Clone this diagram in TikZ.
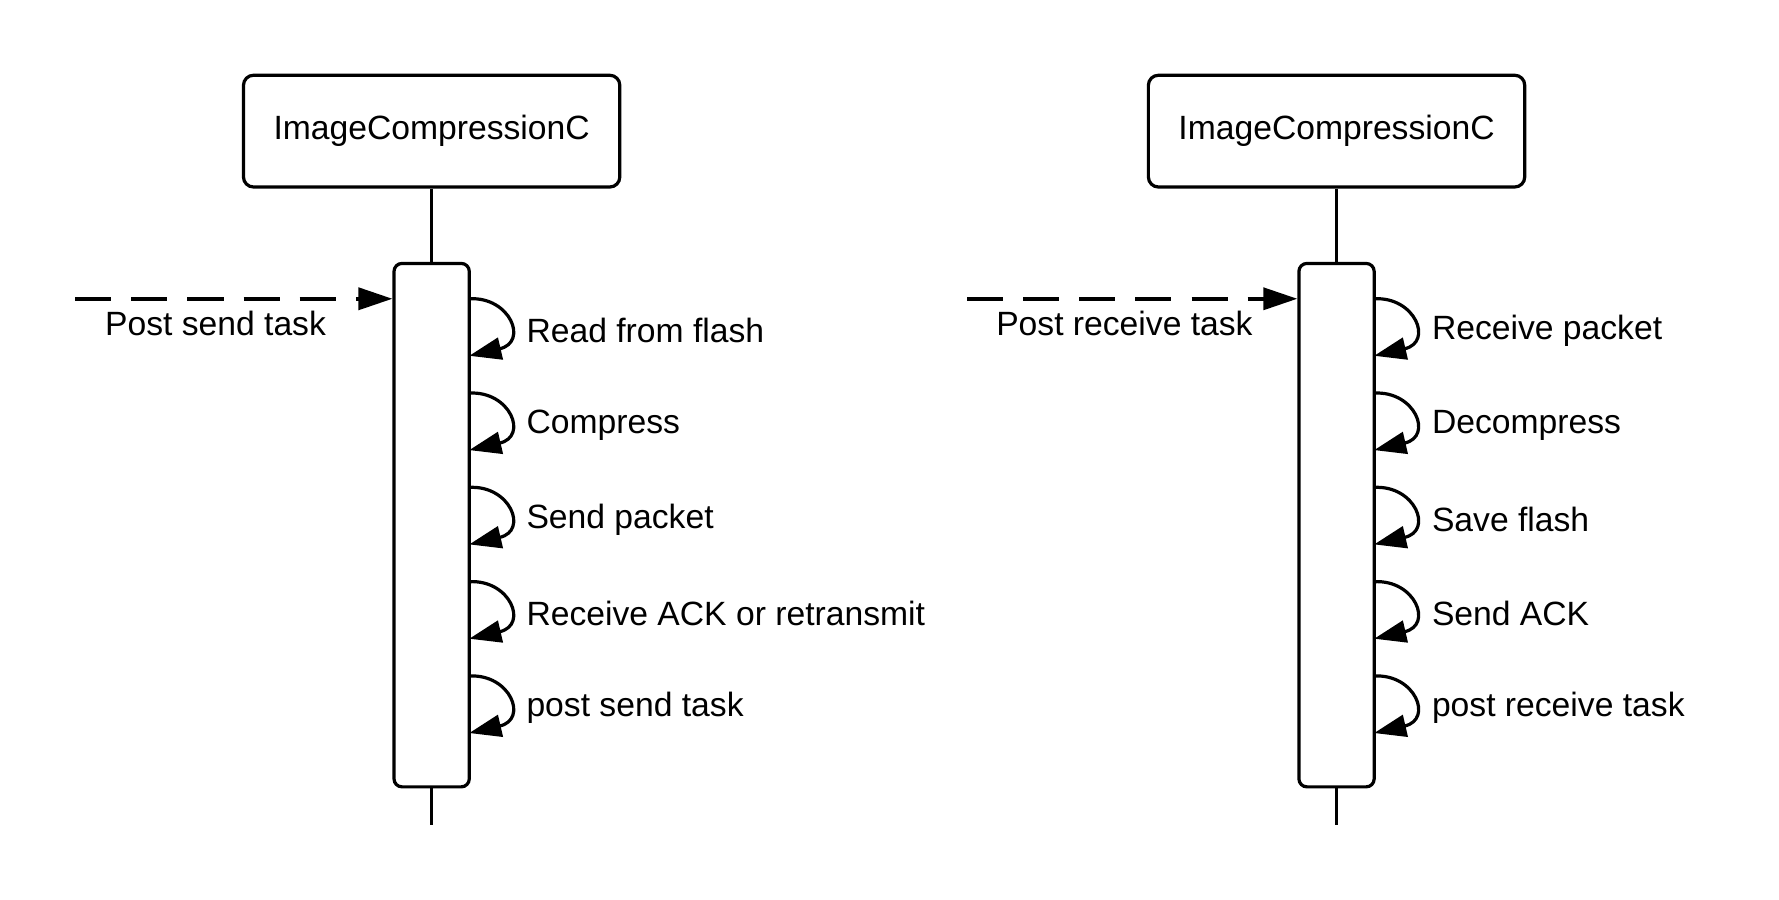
\documentclass[tikz,border=0pt]{standalone}
\usepackage{fontspec}
\setmainfont{Liberation Sans}
\usetikzlibrary{arrows.meta}

\tikzset{
  comp/.style={draw, line width=0.8pt, rounded corners=2.5pt, minimum width=3.30cm, minimum height=0.98cm, inner sep=0pt, font=\fontsize{8.4}{10}\selectfont},
  act/.style={draw, line width=0.8pt, rounded corners=2pt, minimum width=0.66cm, minimum height=4.59cm, inner sep=0pt},
  life/.style={line width=0.8pt},
  call/.style={line width=0.9pt, dash pattern=on 9pt off 5pt, -{Triangle[length=8.5pt,width=5.5pt]}},
  self/.style={line width=0.8pt, -{Triangle[length=8pt,width=5.5pt]}},
  lbl/.style={font=\fontsize{8.4}{10}\selectfont, inner sep=0pt}
}

\begin{document}
\begin{tikzpicture}[y=-1cm]
        \useasboundingbox (0, 0) rectangle (15.6, 7.89);
        % sender
        \node [comp] (sc) at (3.785, 1.15) {ImageCompressionC};
        \node [act] (sa) at (3.785, 4.605) {};
        \coordinate (se) at (3.785, 7.23);
        \draw [life] (sc) -- (sa);
        \draw [life] (sa) -- (se);
        \coordinate (sp) at (0.66, 2.62);
        \draw [call] (sp) -- (sp -| sa.west);
        \node [lbl] at (1.89, 2.84) {Post send task};
        \foreach \t [count=\i from 0] in {Read from flash, Compress, Send packet, Receive ACK or retransmit, post send task} {
            \coordinate (s\i a) at (4.115, 2.62 + 0.827*\i);
            \coordinate (s\i b) at (4.115, 3.12 + 0.827*\i);
            \draw [self] (s\i a) .. controls (4.475, 2.60 + 0.827*\i) and (4.635, 3.00 + 0.827*\i) .. (s\i b);
            \node [lbl, anchor=west] at (4.61, 2.90 + 0.827*\i) {\t};
        }
        % receiver
        \node [comp] (rc) at (11.72, 1.15) {ImageCompressionC};
        \node [act] (ra) at (11.72, 4.605) {};
        \coordinate (re) at (11.72, 7.23);
        \draw [life] (rc) -- (ra);
        \draw [life] (ra) -- (re);
        \coordinate (rp) at (8.48, 2.62);
        \draw [call] (rp) -- (rp -| ra.west);
        \node [lbl] at (9.86, 2.84) {Post receive task};
        \foreach \t [count=\i from 0] in {Receive packet, Decompress, Save flash, Send ACK, post receive task} {
            \coordinate (r\i a) at (12.05, 2.62 + 0.827*\i);
            \coordinate (r\i b) at (12.05, 3.12 + 0.827*\i);
            \draw [self] (r\i a) .. controls (12.41, 2.60 + 0.827*\i) and (12.57, 3.00 + 0.827*\i) .. (r\i b);
            \node [lbl, anchor=west] at (12.55, 2.90 + 0.827*\i) {\t};
        }
    \end{tikzpicture}
\end{document}
